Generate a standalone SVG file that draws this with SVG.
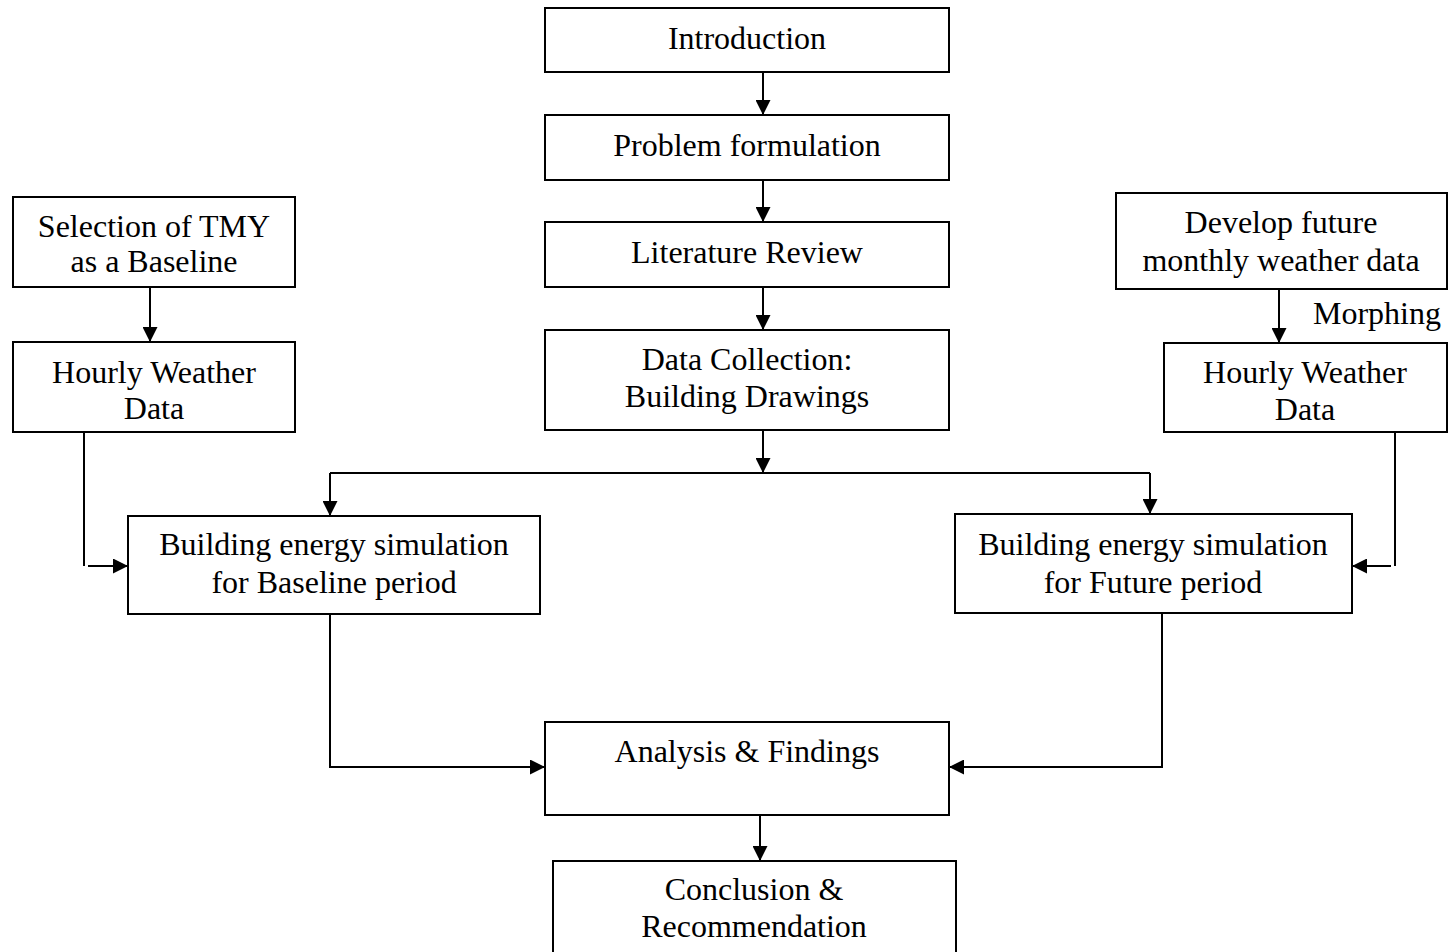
<svg xmlns="http://www.w3.org/2000/svg" width="1452" height="952" viewBox="0 0 1452 952">
<style>
.box{fill:#fff;stroke:#000;stroke-width:2}
.t{font-family:"Liberation Serif","Times New Roman",serif;font-size:32px;fill:#000;text-anchor:middle}
.c{fill:none;stroke:#000;stroke-width:2}
.a{marker-end:url(#ah)}
</style>
<defs>
<marker id="ah" markerUnits="userSpaceOnUse" markerWidth="15" markerHeight="15" refX="15" refY="7.5" orient="auto">
<path d="M0,0 L15,7.5 L0,15 z" fill="#000"/>
</marker>
</defs>
<rect width="1452" height="952" fill="#fff"/>
<g id="connectors">
<path class="c a" d="M763,72 V115"/>
<path class="c a" d="M763,180 V222"/>
<path class="c a" d="M763,287 V330"/>
<path class="c a" d="M763,430 V473"/>
<path class="c" d="M330,473 H1150"/>
<path class="c a" d="M330,473 V516"/>
<path class="c a" d="M1150,473 V514"/>
<path class="c a" d="M150,287 V342"/>
<path class="c a" d="M1279,289 V343"/>
<path class="c" d="M84,432 V566"/>
<path class="c a" d="M88,566 H128"/>
<path class="c" d="M1395,432 V566"/>
<path class="c a" d="M1391,566 H1352"/>
<path class="c a" d="M330,614 V767 H545"/>
<path class="c a" d="M1162,613 V767 H949"/>
<path class="c a" d="M760,815 V861"/>
</g>
<g id="intro"><rect class="box" x="545" y="8" width="404" height="64"/><text class="t" x="747" y="49">Introduction</text></g>
<g id="problem"><rect class="box" x="545" y="115" width="404" height="65"/><text class="t" x="747" y="156">Problem formulation</text></g>
<g id="literature"><rect class="box" x="545" y="222" width="404" height="65"/><text class="t" x="747" y="263">Literature Review</text></g>
<g id="datacollection"><rect class="box" x="545" y="330" width="404" height="100"/><text class="t" x="747" y="370">Data Collection:</text><text class="t" x="747" y="407">Building Drawings</text></g>
<g id="tmy"><rect class="box" x="13" y="197" width="282" height="90"/><text class="t" x="154" y="237">Selection of TMY</text><text class="t" x="154" y="272">as a Baseline</text></g>
<g id="hourly-left"><rect class="box" x="13" y="342" width="282" height="90"/><text class="t" x="154" y="383">Hourly Weather</text><text class="t" x="154" y="419">Data</text></g>
<g id="future-data"><rect class="box" x="1116" y="193" width="331" height="96"/><text class="t" x="1281" y="233">Develop future</text><text class="t" x="1281" y="271">monthly weather data</text></g>
<g id="morphing"><text class="t" x="1377" y="324">Morphing</text></g>
<g id="hourly-right"><rect class="box" x="1164" y="343" width="283" height="89"/><text class="t" x="1305" y="383">Hourly Weather</text><text class="t" x="1305" y="420">Data</text></g>
<g id="sim-baseline"><rect class="box" x="128" y="516" width="412" height="98"/><text class="t" x="334" y="555">Building energy simulation</text><text class="t" x="334" y="593">for Baseline period</text></g>
<g id="sim-future"><rect class="box" x="955" y="514" width="397" height="99"/><text class="t" x="1153" y="555">Building energy simulation</text><text class="t" x="1153" y="593">for Future period</text></g>
<g id="analysis"><rect class="box" x="545" y="722" width="404" height="93"/><text class="t" x="747" y="762">Analysis &amp; Findings</text></g>
<g id="conclusion"><rect class="box" x="553" y="861" width="403" height="100"/><text class="t" x="754" y="900">Conclusion &amp;</text><text class="t" x="754" y="937">Recommendation</text></g>
</svg>
